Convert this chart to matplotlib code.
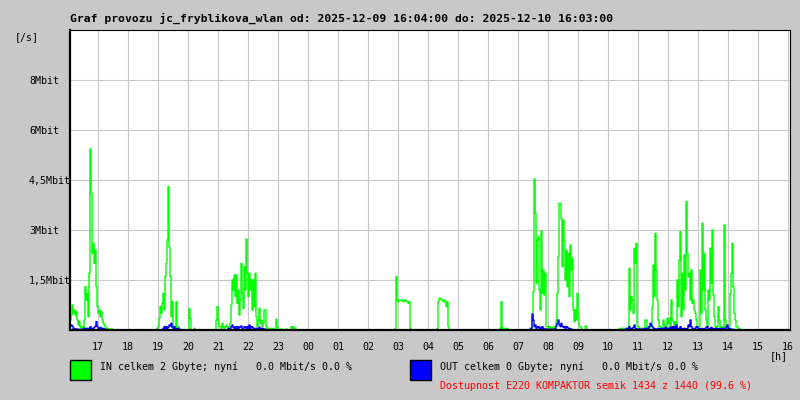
import numpy as np
import matplotlib
matplotlib.use("Agg")
import matplotlib.pyplot as plt
from matplotlib.patches import Rectangle

# zacatek grafu a krok vzorku (minuty)
start_time = "16:04"
step_min = 2
n_samples = 720

# IN [Mbit/s] - jednotlive davky (cas prvniho vzorku, hodnoty)
in_a_start = "16:04"
in_a = [0.30, 0.45, 0.75, 0.50, 0.60, 0.45, 0.55, 0.30, 0.15, 0.25, 0.10, 0.05, 0.10, 0.05,
        0.30, 1.30, 0.90, 1.10, 0.40, 1.70, 5.43, 4.10, 2.30, 2.60, 2.00, 2.40, 1.30, 0.70,
        0.50, 0.60, 0.40, 0.55, 0.30, 0.20, 0.15, 0.10, 0.05, 0.05, 0.00, 0.03, 0.03, 0.00, 0.03]
in_b_start = "18:58"
in_b = [0.05, 0.10, 0.35, 0.70, 0.50, 0.80, 1.10, 0.60, 1.60, 2.00, 2.70, 4.30, 2.50, 1.60,
        0.40, 0.85, 0.10, 0.10, 0.05, 0.85, 0.10, 0.10, 0.05]
in_c_start = "20:02"
in_c = [0.65, 0.35, 0.00, 0.00, 0.00, 0.05, 0.00]
in_d_start = "20:56"
in_d = [0.30, 0.70, 0.30, 0.10, 0.10, 0.05, 0.20, 0.10, 0.05, 0.10, 0.15, 0.10, 0.05, 0.10,
        0.20, 0.75, 1.50, 1.20, 1.65, 1.00, 1.65, 0.80, 1.20, 0.45, 0.90, 2.00, 1.10, 0.65,
        1.90, 1.20, 2.73, 1.70, 1.00, 1.70, 1.20, 1.50, 0.60, 1.50, 0.70, 1.70, 0.40, 0.10,
        0.30, 0.65, 0.20, 0.30, 0.10, 0.20, 0.60, 0.60, 0.10, 0.05, 0.05, 0.00, 0.05, 0.00,
        0.03, 0.05, 0.00, 0.00, 0.32, 0.10, 0.03, 0.00, 0.00, 0.03, 0.00, 0.00, 0.00, 0.00,
        0.03, 0.00, 0.00, 0.00, 0.00, 0.10, 0.05, 0.10, 0.05, 0.05]
in_e_start = "02:54"
in_e = [0.05, 1.60, 0.90, 0.85, 0.90, 0.90, 0.88, 0.90, 0.85, 0.85, 0.90, 0.88, 0.85,
        0.80, 0.85, 0.05]
in_f_start = "04:18"
in_f = [0.05, 0.85, 0.95, 0.95, 0.90, 0.90, 0.85, 0.90, 0.85, 0.70, 0.85, 0.10]
in_g_start = "06:24"
in_g = [0.05, 0.85, 0.05, 0.00, 0.05, 0.05, 0.05, 0.05, 0.00]
in_h_start = "07:24"
in_h = [0.05, 0.05, 0.30, 1.15, 4.53, 3.50, 1.40, 2.70, 2.80, 1.20, 0.60, 2.97, 1.10, 1.80,
        1.05, 1.70, 0.10, 0.10, 0.10, 0.05, 0.10, 0.05, 0.05, 0.10, 0.05, 0.10, 0.30, 1.10,
        2.20, 3.80, 3.80, 3.35, 1.90, 3.30, 2.70, 1.50, 2.40, 1.30, 2.30, 1.00, 2.55, 1.80,
        2.15, 0.60, 0.25, 0.60, 0.30, 1.10, 0.50, 0.10, 0.10, 0.05, 0.00, 0.00, 0.00, 0.12,
        0.12, 0.00]
in_i_start = "10:22"
in_i = [0.03, 0.05, 0.03, 0.05, 0.05, 0.03, 0.05, 0.05, 0.03, 0.05, 1.85, 0.60, 1.00, 0.90,
        0.50, 2.45, 2.00, 2.60, 0.10, 0.10, 0.05, 0.05, 0.05, 0.05, 0.05, 0.05, 0.30, 0.30,
        0.05, 0.10, 0.05, 0.10, 0.10, 0.70, 1.95, 1.00, 2.90, 1.80, 0.90, 0.30, 0.10, 0.10,
        0.05, 0.05, 0.30, 0.15, 0.10, 0.05, 0.35, 0.20, 0.35, 0.10, 0.90, 0.30, 0.25, 0.10,
        0.25, 0.10, 1.50, 0.70, 2.10, 2.95, 0.40, 1.70, 0.60, 2.25, 1.20, 3.85, 2.30, 1.60,
        1.70, 0.90, 1.80, 0.80, 0.90, 0.60, 0.50, 0.30, 0.10, 0.05, 0.10, 1.80, 0.50, 3.20,
        1.20, 2.30, 0.60, 0.30, 0.10, 1.20, 0.90, 2.45, 1.40, 3.00, 1.05, 0.40, 0.10, 0.05,
        0.10, 0.70, 0.30, 0.10, 0.05, 0.10, 0.05, 3.15, 0.30, 0.10, 0.05, 0.05, 0.10, 1.10,
        1.70, 2.60, 1.30, 0.50, 0.30, 0.10, 0.10, 0.05, 0.05, 0.00]

# OUT [Mbit/s]
out_a_start = "16:04"
out_a = [0.12, 0.15, 0.12, 0.05, 0.05, 0.03, 0.03, 0.02, 0.02, 0.02, 0.02, 0.02, 0.02, 0.02,
         0.05, 0.05, 0.03, 0.05, 0.03, 0.05, 0.10, 0.05, 0.03, 0.05, 0.08, 0.12, 0.25, 0.10,
         0.05, 0.05, 0.08, 0.05, 0.03, 0.05, 0.03, 0.02]
out_b_start = "19:10"
out_b = [0.05, 0.10, 0.05, 0.10, 0.05, 0.08, 0.15, 0.12, 0.20, 0.08, 0.05, 0.10, 0.05, 0.05,
         0.03, 0.05]
out_c_start = "21:20"
out_c = [0.05, 0.03, 0.05, 0.10, 0.15, 0.08, 0.05, 0.10, 0.05, 0.10, 0.05, 0.08, 0.10, 0.12,
         0.05, 0.05, 0.10, 0.08, 0.05, 0.10, 0.05, 0.15, 0.05, 0.10, 0.08, 0.05, 0.05, 0.03,
         0.05, 0.03, 0.05, 0.08, 0.05, 0.03, 0.05, 0.03, 0.03, 0.02]
out_d_start = "07:24"
out_d = [0.02, 0.05, 0.48, 0.30, 0.10, 0.15, 0.05, 0.08, 0.10, 0.05, 0.08, 0.05, 0.10, 0.05,
         0.03, 0.03, 0.03, 0.02, 0.02, 0.02, 0.02, 0.02, 0.02, 0.02, 0.02, 0.05, 0.12, 0.20,
         0.30, 0.15, 0.10, 0.20, 0.12, 0.08, 0.10, 0.05, 0.10, 0.08, 0.05, 0.05, 0.03, 0.03]
out_e_start = "10:34"
out_e = [0.02, 0.03, 0.05, 0.03, 0.10, 0.05, 0.03, 0.05, 0.08, 0.15, 0.05, 0.03, 0.03, 0.03,
         0.03, 0.02, 0.02, 0.02, 0.03, 0.03, 0.05, 0.05, 0.03, 0.05, 0.10, 0.20, 0.15, 0.10,
         0.05, 0.05, 0.03, 0.03, 0.03, 0.05, 0.03, 0.03, 0.05, 0.05, 0.05, 0.05, 0.08, 0.03,
         0.05, 0.03, 0.05, 0.08, 0.05, 0.10, 0.05, 0.10, 0.05, 0.15, 0.05, 0.03, 0.05, 0.10,
         0.05, 0.03, 0.03, 0.05, 0.03, 0.03, 0.05, 0.15, 0.10, 0.30, 0.10, 0.05, 0.03, 0.05,
         0.05, 0.10, 0.08, 0.05, 0.03, 0.03, 0.05, 0.03, 0.02, 0.03, 0.05, 0.08, 0.10, 0.03,
         0.03, 0.05, 0.08, 0.05, 0.03, 0.03, 0.05, 0.05, 0.03, 0.03, 0.05, 0.05, 0.03, 0.03,
         0.05, 0.03, 0.05, 0.10, 0.15, 0.05, 0.05, 0.03, 0.02, 0.02, 0.02]

hour_labels = ["17", "18", "19", "20", "21", "22", "23", "00", "01", "02", "03", "04",
               "05", "06", "07", "08", "09", "10", "11", "12", "13", "14", "15", "16"]
y_ticks = [1.5, 3, 4.5, 6, 7.5]
y_labels = ["1,5Mbit", "3Mbit", "4,5Mbit", "6Mbit", "8Mbit"]


def minutes_from_start(hhmm):
    h, m = map(int, hhmm.split(":"))
    h0, m0 = map(int, start_time.split(":"))
    return ((h * 60 + m) - (h0 * 60 + m0)) % 1440


def build(bursts):
    s = np.zeros(n_samples)
    for st, vals in bursts:
        i = minutes_from_start(st) // step_min
        s[i:i + len(vals)] = vals
    return s


inb = build([(in_a_start, in_a), (in_b_start, in_b), (in_c_start, in_c), (in_d_start, in_d),
             (in_e_start, in_e), (in_f_start, in_f), (in_g_start, in_g), (in_h_start, in_h),
             (in_i_start, in_i)])
outb = build([(out_a_start, out_a), (out_b_start, out_b), (out_c_start, out_c),
              (out_d_start, out_d), (out_e_start, out_e)])
t = np.arange(n_samples) * step_min

bg = "#c8c8c8"
mono = "DejaVu Sans Mono"
fig = plt.figure(figsize=(8, 4), dpi=100, facecolor=bg)
ax = fig.add_axes([70 / 800, 70 / 400, 720 / 800, 300 / 400])
ax.set_facecolor("white")

ax.plot(t, inb, color="#00ff00", lw=1.0, drawstyle="steps-post")
ax.plot(t, outb, color="#0000ff", lw=1.0, drawstyle="steps-post")

ax.set_xlim(0, 1440)
ax.set_ylim(0, 9)

hour_pos = [minutes_from_start(h + ":00") for h in hour_labels]
hour_pos[-1] = 1436  # 16:00 druhy den
ax.set_xticks(hour_pos)
ax.set_xticklabels(hour_labels, fontfamily=mono, fontsize=7.2)
ax.set_yticks(y_ticks)
ax.set_yticklabels(y_labels, fontfamily=mono, fontsize=7.2)
for lbl in ax.get_yticklabels():
    lbl.set_horizontalalignment("left")
ax.tick_params(axis="x", length=0, pad=9)
ax.tick_params(axis="y", length=1.5, color="#c8c8c8", pad=28)
ax.grid(True, color="#c8c8c8", lw=0.8)
ax.set_axisbelow(True)

for side in ["left", "bottom"]:
    ax.spines[side].set_linewidth(1.6)
for side in ["top", "right"]:
    ax.spines[side].set_linewidth(0.8)

fig.text(70 / 800, 1 - 18 / 400,
         "Graf provozu jc_fryblikova_wlan od: 2025-12-09 16:04:00 do: 2025-12-10 16:03:00",
         fontfamily=mono, fontweight="bold", fontsize=8.2, va="center")
fig.text(15 / 800, 1 - 37 / 400, "[/s]", fontfamily=mono, fontsize=7.2, va="center")
fig.text(770 / 800, 1 - 356 / 400, "[h]", fontfamily=mono, fontsize=7.2, va="center")

fig.patches.append(Rectangle((70 / 800, 1 - 380 / 400), 21 / 800, 20 / 400, transform=fig.transFigure,
                             facecolor="#00ff00", edgecolor="black", lw=1))
fig.patches.append(Rectangle((410 / 800, 1 - 380 / 400), 21 / 800, 20 / 400, transform=fig.transFigure,
                             facecolor="#0000ff", edgecolor="black", lw=1))
fig.text(100 / 800, 1 - 367 / 400, "IN celkem 2 Gbyte; nyní   0.0 Mbit/s 0.0 %",
         fontfamily=mono, fontsize=7.2, va="center")
fig.text(440 / 800, 1 - 367 / 400, "OUT celkem 0 Gbyte; nyní   0.0 Mbit/s 0.0 %",
         fontfamily=mono, fontsize=7.2, va="center")
fig.text(440 / 800, 1 - 386 / 400, "Dostupnost E220 KOMPAKTOR semik 1434 z 1440 (99.6 %)",
         fontfamily=mono, fontsize=7.2, va="center", color="#ff0000")

fig.savefig("out.png", dpi=100, facecolor=bg)
